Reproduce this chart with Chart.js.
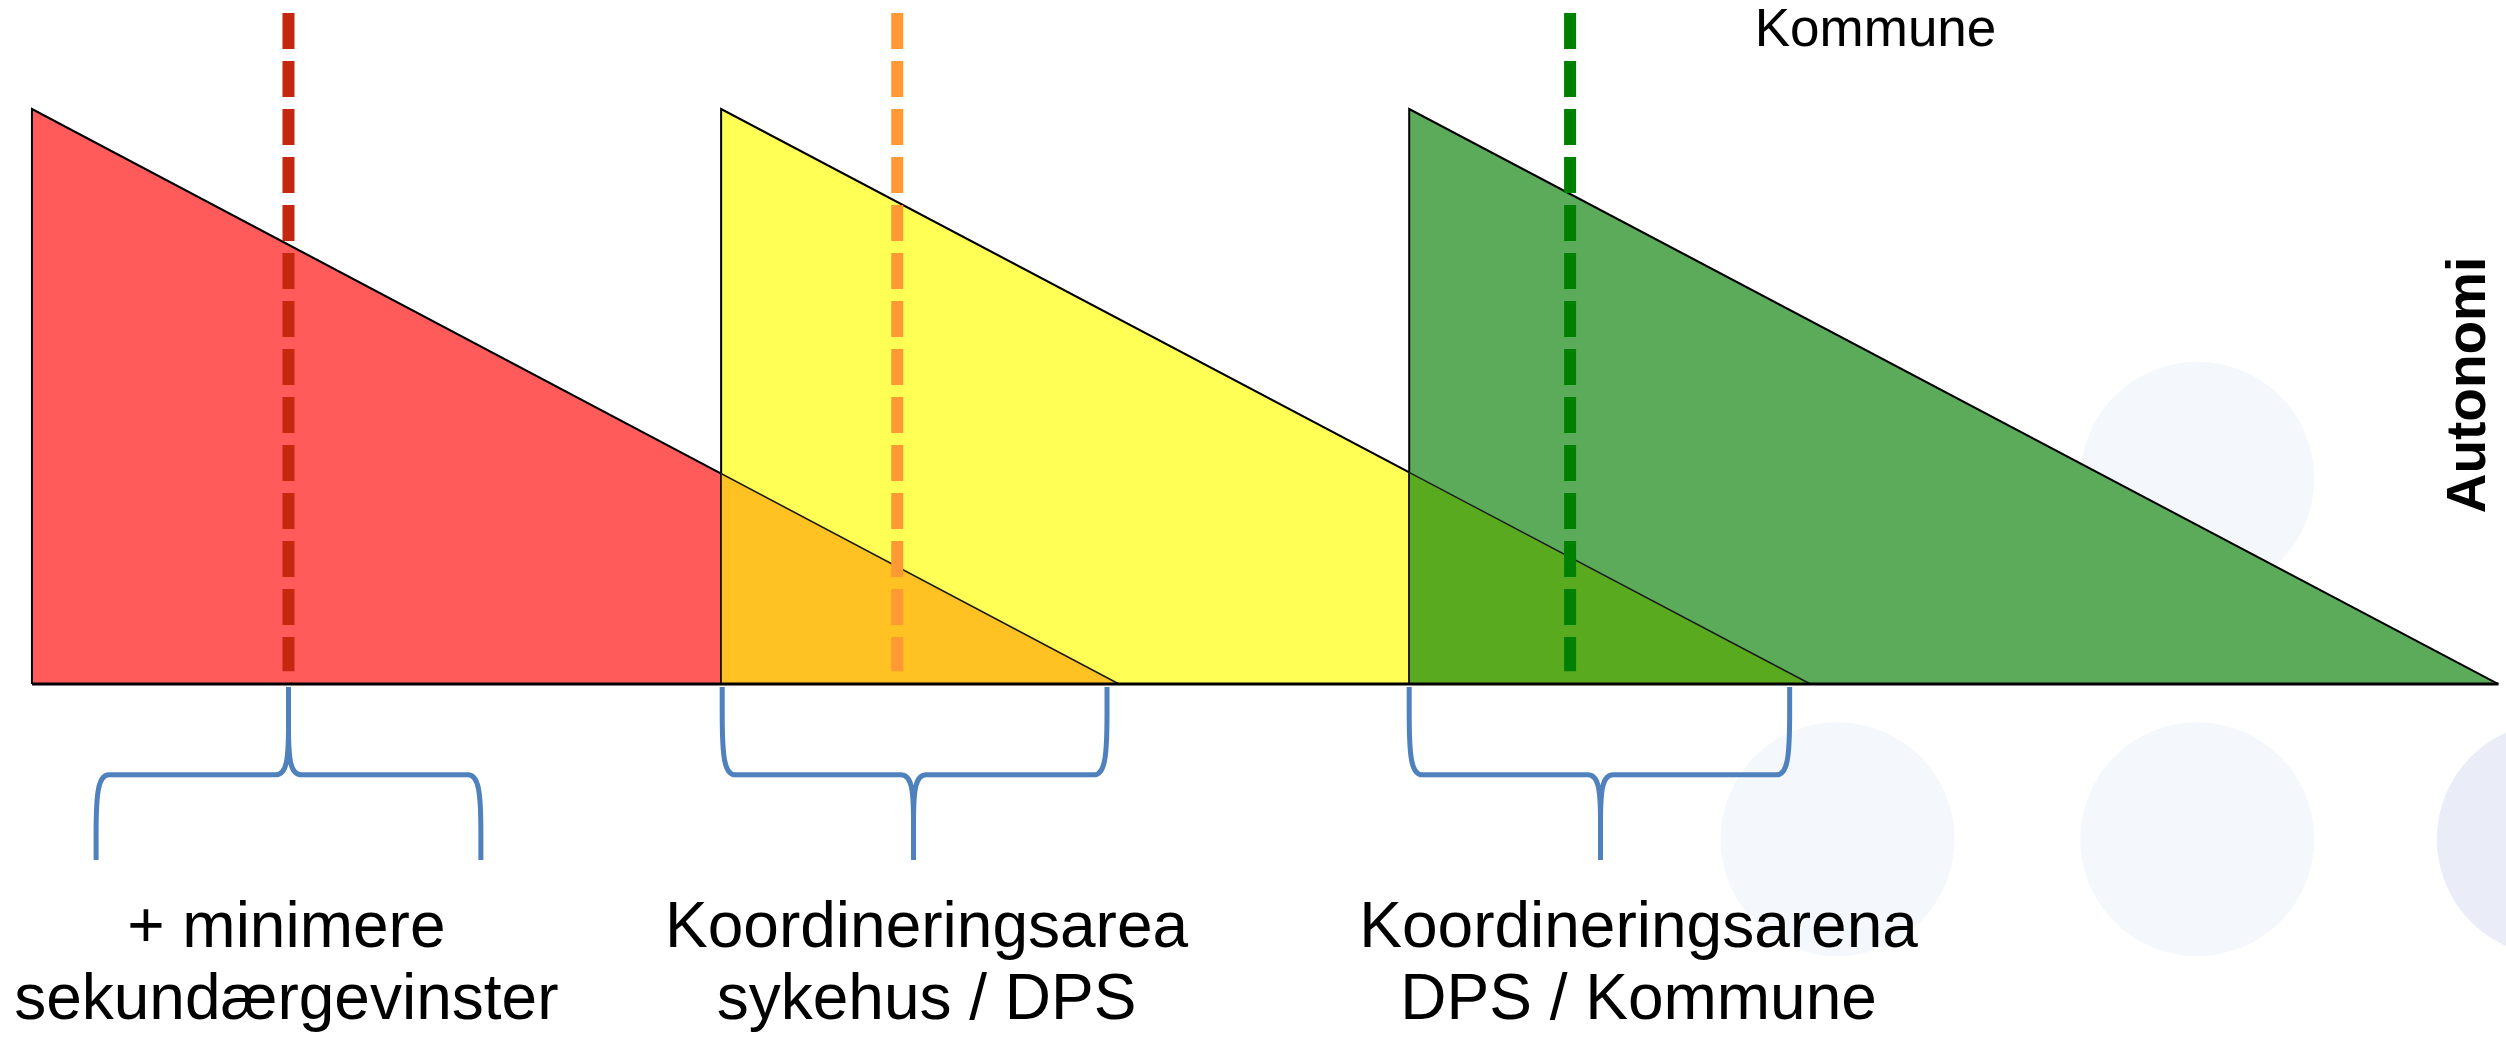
<!DOCTYPE html>
<html>
<head>
<meta charset="utf-8">
<script src="https://cdn.jsdelivr.net/npm/chart.js@4"></script>
<style>
  html, body { margin: 0; padding: 0; background: #fff; overflow: hidden; }
  #wrap { position: relative; width: 2506px; height: 1037px; }
</style>
</head>
<body>
<div id="wrap"><canvas id="myChart"></canvas></div>
<script>
// triangles (x along the autonomy line, height of each triangle)
var triangleStart = [0, 6.34, 12.67];
var triangleEnd = [10, 16.36, 22.69];
var triangleHeight = [10, 10, 10];

// where two triangles overlap (red/yellow, yellow/green)
var overlapStart = [6.34, 12.67];
var overlapEnd = [10, 16.36];
var overlapHeight = [3.66, 3.68];

// dashed markers
var markerX = [2.36, 7.96, 14.15];
var markerTop = 11.67;
var markerBottom = 0.22;

// braces under the line
var braceFrom = [0.59, 6.35, 12.67];
var braceTo = [4.13, 9.89, 16.17];
var braceTip = [2.36, 8.11, 14.43];
var braceTipUp = [true, false, false];
var braceTopY = -0.05;
var braceMidY = -1.58;
var braceBottomY = -3.06;

// labels
var labelX = [2.34, 8.23, 14.78];
var labelY = [-4.57, -5.82];
var labelLines = [
    ["+ minimere", "sekundærgevinster"],
    ["Koordineringsarea", "sykehus / DPS"],
    ["Koordineringsarena", "DPS / Kommune"]
];
var topLabel = "Kommune";
var topLabelPos = [16.96, 11.10];
var axisLabel = "Autonomi";
var axisLabelPos = [22.57, 5.20];

// faint background circles
var circleX = [19.92, 16.61, 19.92, 23.2];
var circleY = [3.57, -2.70, -2.70, -2.70];

var triFill = ["#FF5B5B", "#FFFF55", "#5BAB5B"];
var overlapFill = ["#FFC222", "#5AAA1F"];
var markerColor = ["#C4280F", "#FF9933", "#008000"];
var circleColor = ["#F4F7FC", "#F4F7FC", "#F4F7FC", "#EAEDF8"];
var FONT = '"Liberation Sans", Arial, Helvetica, sans-serif';

var datasets = [];

datasets.push({
    data: circleX.map(function (x, i) { return {x: x, y: circleY[i]}; }),
    showLine: false,
    pointRadius: 117,
    pointBorderWidth: 0,
    pointBackgroundColor: circleColor,
    pointBorderColor: circleColor,
    order: 20
});

var i;
for (i = 0; i < triangleStart.length; i++) {
    datasets.push({
        data: [
            {x: triangleStart[i], y: 0},
            {x: triangleStart[i], y: triangleHeight[i]},
            {x: triangleEnd[i], y: 0}
        ],
        fill: 'origin',
        backgroundColor: triFill[i],
        borderColor: "#000",
        borderWidth: 2,
        pointRadius: 0,
        tension: 0,
        order: 19 - i * 2
    });
}
for (i = 0; i < overlapStart.length; i++) {
    datasets.push({
        data: [
            {x: overlapStart[i], y: 0},
            {x: overlapStart[i], y: overlapHeight[i]},
            {x: overlapEnd[i], y: 0}
        ],
        fill: 'origin',
        backgroundColor: overlapFill[i],
        borderColor: "#1a1a1a",
        borderWidth: 1.5,
        pointRadius: 0,
        tension: 0,
        order: 16 - i * 2
    });
}

// baseline
datasets.push({
    data: [{x: triangleStart[0], y: 0}, {x: triangleEnd[2], y: 0}],
    borderColor: "#000",
    borderWidth: 3,
    pointRadius: 0,
    fill: false,
    order: 5
});

for (i = 0; i < markerX.length; i++) {
    datasets.push({
        data: [{x: markerX[i], y: markerTop}, {x: markerX[i], y: markerBottom}],
        borderColor: markerColor[i],
        borderWidth: 12,
        borderDash: [36, 12],
        borderCapStyle: 'butt',
        pointRadius: 0,
        fill: false,
        order: 4 - i
    });
}

function drawBrace(ctx, xs, ys, k) {
    var xL = xs.getPixelForValue(braceFrom[k]);
    var xR = xs.getPixelForValue(braceTo[k]);
    var xT = xs.getPixelForValue(braceTip[k]);
    var yMid = ys.getPixelForValue(braceMidY);
    var yTip, yEnd;
    if (braceTipUp[k]) {
        yTip = ys.getPixelForValue(braceTopY);
        yEnd = ys.getPixelForValue(braceBottomY);
    } else {
        yTip = ys.getPixelForValue(braceBottomY);
        yEnd = ys.getPixelForValue(braceTopY);
    }
    var s = yEnd > yMid ? 1 : -1;
    var t = -s;
    var cx = 13;
    var cyE = Math.abs(yEnd - yMid) * 0.7;
    var cyT = Math.abs(yTip - yMid) * 0.55;

    ctx.beginPath();
    ctx.moveTo(xL, yEnd);
    ctx.lineTo(xL, yMid + s * cyE);
    ctx.bezierCurveTo(xL, yMid + s * cyE * 0.3, xL + 2, yMid, xL + cx, yMid);
    ctx.lineTo(xT - cx, yMid);
    ctx.bezierCurveTo(xT - 2, yMid, xT, yMid + t * cyT * 0.3, xT, yMid + t * cyT);
    ctx.lineTo(xT, yTip);
    ctx.moveTo(xT, yMid + t * cyT);
    ctx.bezierCurveTo(xT, yMid + t * cyT * 0.3, xT + 2, yMid, xT + cx, yMid);
    ctx.lineTo(xR - cx, yMid);
    ctx.bezierCurveTo(xR - 2, yMid, xR, yMid + s * cyE * 0.3, xR, yMid + s * cyE);
    ctx.lineTo(xR, yEnd);
    ctx.stroke();
}

var extras = {
    id: 'extras',
    afterDatasetsDraw: function (chart) {
        var ctx = chart.ctx;
        var xs = chart.scales.x;
        var ys = chart.scales.y;
        ctx.save();
        ctx.strokeStyle = "#4F81BD";
        ctx.lineWidth = 5;
        ctx.lineJoin = 'round';
        ctx.lineCap = 'butt';
        for (var k = 0; k < braceFrom.length; k++) drawBrace(ctx, xs, ys, k);

        ctx.fillStyle = "#000";
        ctx.textAlign = 'center';
        ctx.textBaseline = 'alphabetic';
        ctx.font = '64px ' + FONT;
        for (var j = 0; j < labelLines.length; j++) {
            for (var l = 0; l < labelLines[j].length; l++) {
                ctx.fillText(labelLines[j][l], xs.getPixelForValue(labelX[j]), ys.getPixelForValue(labelY[l]));
            }
        }
        ctx.font = '53px ' + FONT;
        ctx.fillText(topLabel, xs.getPixelForValue(topLabelPos[0]), ys.getPixelForValue(topLabelPos[1]));

        ctx.translate(xs.getPixelForValue(axisLabelPos[0]), ys.getPixelForValue(axisLabelPos[1]));
        ctx.rotate(-Math.PI / 2);
        ctx.font = 'bold 55px ' + FONT;
        ctx.fillText(axisLabel, 0, 0);
        ctx.restore();
    }
};

var ctx = document.getElementById("myChart").getContext("2d");
new Chart(ctx, {
    type: 'line',
    data: {datasets: datasets},
    options: {
        responsive: true,
        maintainAspectRatio: false,
        animation: false,
        layout: {padding: 0, autoPadding: false},
        plugins: {legend: {display: false}, tooltip: {enabled: false}},
        events: [],
        scales: {
            x: {type: 'linear', min: -0.294, max: 22.76, display: false},
            y: {type: 'linear', min: -6.139, max: 11.896, display: false}
        }
    },
    plugins: [extras]
});
</script>
</body>
</html>
